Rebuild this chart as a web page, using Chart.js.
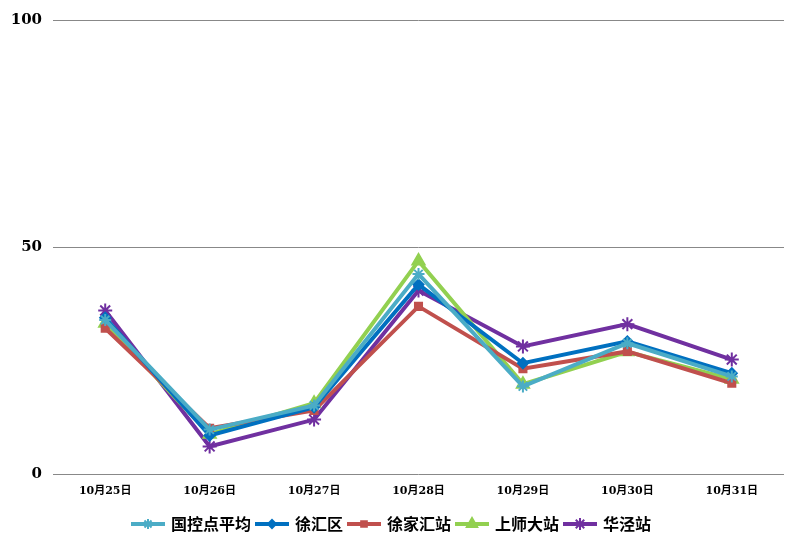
<!DOCTYPE html>
<html>
<head>
<meta charset="utf-8">
<script src="https://cdn.jsdelivr.net/npm/chart.js@4"></script>
<style>
  html, body { margin: 0; padding: 0; background: #fff; }
  #wrap { width: 804px; height: 552px; }
</style>
</head>
<body>
<div id="wrap"><canvas id="mychart" width="804" height="552"></canvas></div>
<script>
// data
const days = ['10月25日', '10月26日', '10月27日', '10月28日', '10月29日', '10月30日', '10月31日'];
const guokong = [34, 9.9, 15.2, 44.1, 19.4, 28.9, 21.6];   // 国控点平均
const xuhui = [34.5, 8.6, 14.8, 41.8, 24.5, 29.3, 22.3];    // 徐汇区
const xujiahui = [32.2, 10.2, 14.1, 37, 23.3, 27.1, 20.1];  // 徐家汇站
const shangshida = [33.3, 8.9, 15.7, 47, 19.9, 27, 21];     // 上师大站
const huajing = [36.1, 6.2, 12.1, 40.5, 28.2, 33.1, 25.3];  // 华泾站
const yTicks = [0, 50, 100];

const series = [
  { label: '国控点平均', data: guokong, color: '#4BACC6', style: 'star', r: 6 },
  { label: '徐汇区', data: xuhui, color: '#0070C0', style: 'rectRot', r: 5 },
  { label: '徐家汇站', data: xujiahui, color: '#C0504D', style: 'rect', r: 5 },
  { label: '上师大站', data: shangshida, color: '#92D050', style: 'triangle', r: 7 },
  { label: '华泾站', data: huajing, color: '#7030A0', style: 'star', r: 7 }
];

// little line + marker picture for the legend
function legendIcon(s) {
  const c = document.createElement('canvas');
  c.width = 34; c.height = 16;
  const g = c.getContext('2d');
  g.strokeStyle = s.color;
  g.lineWidth = 4;
  g.beginPath(); g.moveTo(0, 8); g.lineTo(34, 8); g.stroke();
  g.fillStyle = s.color;
  g.lineWidth = 2;
  Chart.helpers.drawPoint(g, { pointStyle: s.style, radius: s.r - 1, rotation: 0, borderWidth: 2 }, 17, 8);
  return c;
}

const ctx = document.getElementById('mychart');

new Chart(ctx, {
  type: 'line',
  data: {
    labels: days,
    datasets: series.map(s => ({
      label: s.label,
      data: s.data,
      borderColor: s.color,
      backgroundColor: s.color,
      borderWidth: 4,
      pointStyle: s.style,
      pointRadius: s.r,
      pointBorderWidth: 2,
      pointBorderColor: s.color,
      pointBackgroundColor: s.color,
      tension: 0
    }))
  },
  options: {
    responsive: false,
    animation: false,
    layout: { padding: { top: 10, right: 20, left: 0, bottom: 10 } },
    scales: {
      x: {
        offset: true,
        grid: { display: false },
        border: { display: false },
        // empty title only to leave a gap between tick labels and legend
        title: { display: true, text: ' ', font: { size: 1 }, padding: { top: 0, bottom: 9 } },
        ticks: {
          color: '#000',
          padding: 2,
          maxRotation: 0,
          font: { family: '"DejaVu Serif", "Noto Sans CJK SC", serif', size: 11, weight: 'bold' }
        }
      },
      y: {
        min: 0,
        max: 100,
        afterBuildTicks: axis => { axis.ticks = yTicks.map(v => ({ value: v })); },
        afterFit: axis => { axis.width = 53; },
        grid: { color: '#888', lineWidth: 1, drawTicks: false },
        border: { display: false },
        ticks: {
          color: '#000',
          padding: 11,
          font: { family: '"DejaVu Serif", serif', size: 15, weight: 'bold' }
        }
      }
    },
    plugins: {
      legend: {
        position: 'bottom',
        labels: {
          usePointStyle: true,
          pointStyleWidth: 30,
          padding: 6,
          color: '#000',
          font: { family: '"Noto Sans CJK SC", sans-serif', size: 16, weight: 'bold' },
          generateLabels: chart => series.map((s, i) => ({
            text: s.label,
            fillStyle: s.color,
            strokeStyle: s.color,
            lineWidth: 0,
            pointStyle: legendIcon(s),
            hidden: false,
            datasetIndex: i
          }))
        }
      },
      tooltip: { enabled: false }
    }
  }
});
</script>
</body>
</html>
